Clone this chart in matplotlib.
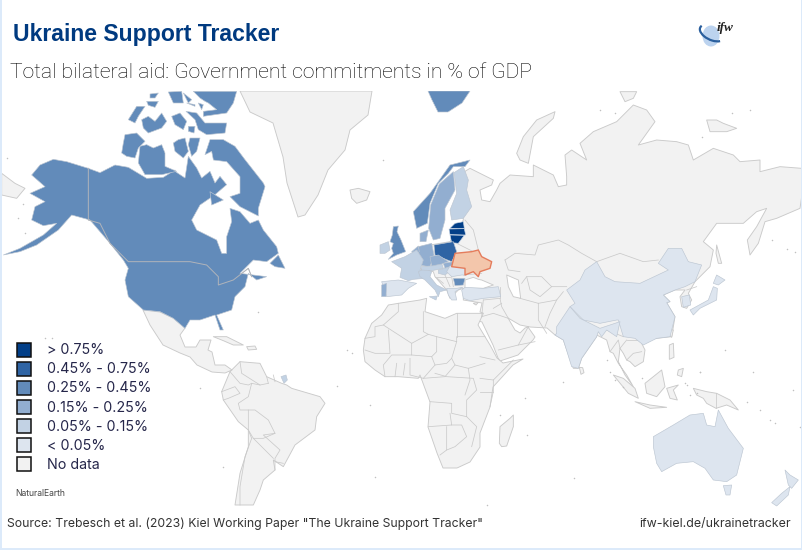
import matplotlib
matplotlib.use("Agg")
import matplotlib.pyplot as plt
from matplotlib.patches import Polygon, Rectangle, Ellipse, Arc

# ---- data: aid classes and the countries in them -------------------------
BIN_LABELS = ["> 0.75%", "0.45% - 0.75%", "0.25% - 0.45%", "0.15% - 0.25%",
              "0.05% - 0.15%", "< 0.05%", "No data"]
BIN_COLORS = ["#023f88", "#2f64a4", "#628bba", "#92aed0", "#c2d2e4", "#dde5ef", "#f2f2f2"]
OVER_075 = ["Estonia", "Latvia", "Lithuania"]
FROM_045 = ["Poland"]
FROM_025 = ["USA_Canada", "Newfoundland", "Banks", "Victoria", "Ellesmere", "Devon", "Axel", "Axel2",
            "Small1", "Small2", "Small3", "Melville", "Patrick", "Bathurst", "Ellef", "Ellef2",
            "Somerset", "PrinceWales", "Baffin", "Southampton", "Norway", "Svalbard", "UK", "Bulgaria"]
FROM_015 = ["Sweden", "Germany", "Denmark", "Netherlands", "Portugal", "Czechia", "Slovakia"]
FROM_005 = ["Finland", "France", "Italy", "Sicily", "Belgium", "Austria", "Hungary",
            "FrenchGuiana", "Ireland"]
UNDER_005 = ["Spain", "Romania", "Greece", "Turkey", "China", "India", "SouthKorea", "Honshu", "Hokkaido",
             "Australia", "Tasmania", "NZNorth", "NZSouth"]
NO_DATA = ["Eurasia", "Greenland", "Iceland", "Novaya", "Severnaya", "NewSiberia", "Sakhalin",
           "Africa", "Madagascar", "SouthAmerica", "Mexico", "Cuba", "Hispaniola", "Chukotka",
           "Switzerland", "Sumatra", "Java", "Borneo", "Sulawesi", "NewGuinea", "Luzon",
           "Mindanao", "SriLanka", "Taiwan", "Cyprus"]


def crop(x0, y0):
    return lambda p: [(x0 + x / 3, y0 + y / 3) for x, y in p]


c1, c2, c3, c4 = crop(350, 140), crop(355, 295), crop(0, 80), crop(500, 80)
c5, c6, c7 = crop(120, 88), crop(180, 330), crop(480, 320)
c8, c9, c10 = crop(450, 270), crop(590, 320), crop(375, 220)

# ---- outlines -------------------------------------------------------------
OUTLINES = {
    "USA_Canada": c3([(160,238),(200,245),(265,265),(300,278),(345,255),(385,262),(440,295),(490,292),(525,270)]) + c5([(165,250),(195,270),(205,205),(230,240),(245,270),(270,250),(285,285),(300,265),(320,290),(285,320)]) + c3([(600,375),(575,420),(590,450),(650,480),(665,520),(680,520),(680,470),(695,425),(690,385),(720,395),(750,430),(775,420),(790,450),(830,500),(835,520),(800,545),(760,540),(720,580),(800,590),(770,600),(745,580),(735,620),(705,650),(695,690),(650,705),(670,750),(660,750),(645,705),(600,720),(570,720),(555,745),(520,715),(480,695),(430,690),(385,650),(375,600),(385,565),(370,540),(330,490),(270,420),(215,405),(175,450),(110,495),(60,515),(10,525),(60,505),(130,465),(170,430),(130,437),(95,420),(105,380),(135,365),(90,340),(135,320),(95,285),(120,255)]),
    "Newfoundland": c3([(810,550),(835,525),(855,565),(825,560)]),
    "Banks": c5([(15,140),(50,135),(75,160),(55,180),(45,210),(20,205),(5,195),(10,165)]),
    "Victoria": c5([(60,175),(80,170),(100,180),(125,170),(135,195),(135,235),(170,250),(125,260),(75,260),(55,225)]),
    "Ellesmere": c5([(220,10),(350,10),(340,45),(320,75),(250,85),(250,70),(290,65),(265,45),(255,40),(240,30)]),
    "Devon": c5([(198,70),(230,75),(255,105),(320,105),(315,135),(260,140),(235,125),(225,95)]),
    "Axel": c5([(145,12),(185,10),(190,45),(160,45)]),
    "Axel2": c5([(190,15),(215,35),(205,45)]),
    "Small1": c5([(200,45),(225,50),(225,55)]),
    "Small2": c5([(235,45),(250,50),(245,65)]),
    "Small3": c5([(205,115),(225,115),(222,135),(205,130)]),
    "Melville": c5([(65,95),(85,85),(105,100),(125,75),(140,100),(125,120),(85,135),(70,120)]),
    "Patrick": c5([(25,95),(50,55),(75,55),(55,85),(45,105)]),
    "Bathurst": c5([(155,85),(180,75),(200,100),(190,125),(165,110)]),
    "Ellef": c5([(90,18),(115,15),(105,30),(90,30)]),
    "Ellef2": c5([(80,40),(115,40),(105,58),(85,52)]),
    "Somerset": c5([(175,155),(195,150),(205,190),(190,210),(165,190),(160,165)]),
    "PrinceWales": c5([(210,150),(240,150),(230,190),(215,205),(205,170)]),
    "Baffin": c5([(255,200),(270,155),(310,155),(345,175),(375,215),(430,285)]) + c3([(795,320),(775,385),(775,408),(720,380),(690,350),(720,340),(720,290),(680,245),(640,240)]) + c5([(280,215),(275,190)]),
    "Southampton": c3([(630,335),(670,360),(635,375)]),
    "Greenland": [(240,91),(372,91),(368,115),(350,130),(345,150),(328,170),(318,195),(305,215),(298,217),(287,183),(283,157),(273,123),(250,112)],
    "Chukotka": c3([(5,280),(45,310),(75,325),(50,355),(5,345)]),
    "Iceland": c1([(0,150),(25,145),(60,155),(50,180),(20,190),(5,175)]),
    "Svalbard": [(428,91),(470,91),(462,103),(448,112),(438,112),(432,100)],
    "Eurasia": c1([(360,85),(430,120),(425,135),(390,150),(395,180),(420,185),(440,150),(450,130)]) + c4([(30,285),(100,290),(100,255),(160,285),(175,320),(200,315),(200,290),(195,225),(215,210),(260,240),(240,190),(280,155),(350,125),(400,75),(440,90),(465,125),(415,195),(470,180),(530,185),(565,195),(580,240),(640,205),(700,225),(720,245),(780,240),(780,275),(840,260),(905,265),(905,350),(900,385),(830,415),(795,425),(775,490),(750,525),(742,480),(770,440),(800,385),(770,395),(730,430),(650,430),(610,485),(640,510),(630,560),(585,605),(565,640),(575,660),(560,685),(545,680),(540,650),(555,630),(525,630),(490,645),(510,665),(500,668),(525,710),(515,770)]) + c7([(530,55)]) + c9([(165,60),(155,70),(165,90),(160,125),(135,140),(120,125),(110,120),(100,100),(90,85),(85,125),(105,165),(130,200),(110,165),(85,130),(70,100),(60,95),(50,60),(40,55),(20,45)]) + c7([(350,50),(305,115),(295,145),(280,145),(250,60),(225,45)]) + [(547,328),(530,327),(520,325),(508,318),(515,330),(520,333),(525,328),(528,327),(535,337),(533,340),(518,355),(500,361),(498,358),(493,345),(482,322),(475,320),(483,313),(480,312),(482,303)] + c1([(340,480),(340,445),(325,450),(300,475),(290,450),(255,410),(250,395),(205,385),(195,360),(210,320),(300,305),(340,240),(335,200),(335,100)]),
    "Novaya": c4([(50,220),(70,170),(110,120),(165,95),(160,115),(100,170),(85,250),(60,240)]),
    "Severnaya": c4([(360,35),(410,35),(400,55),(375,65)]),
    "NewSiberia": c4([(620,120),(650,120),(670,130),(710,145),(680,155),(630,155)]),
    "Sakhalin": c4([(650,495),(665,550),(655,550),(648,520)]),
    "Africa": c2([(25,165),(30,130),(50,85),(80,60),(100,30),(130,25),(195,15),(215,10),(210,50),(270,70),(305,55),(385,55)]) + [(478,325),(490,345),(497,358),(503,363),(523,359),(513,365),(493,387),(490,407),(480,433),(480,447),(470,462),(457,468),(443,468),(437,453),(428,427),(430,402),(420,375)] + c2([(190,250),(130,245),(90,245),(60,225),(30,200)]),
    "Madagascar": c7([(58,370),(60,320),(90,295),(100,285),(100,320),(80,378),(65,380)]),
    "SouthAmerica": c6([(180,95),(150,125),(125,185),(130,210),(175,275),(205,300),(205,350),(180,430),(165,525),(220,525),(240,480),(250,450),(285,420),(280,390),(310,410),(345,345),(405,300),(410,260),(435,220),(420,200),(335,175),(320,165),(305,160),(260,140),(240,100)]),
    "Mexico": [(143,310),(150,325),(163,345),(180,353),(190,357),(197,365),(212,372),(225,373),(232,370),(225,365),(215,365),(212,352),(208,350),(211,340),(200,340),(196,347),(185,347),(180,335),(185,328),(173,318),(160,312)],
    "Cuba": c6([(100,20),(140,20),(190,45),(160,45),(130,32)]),
    "Hispaniola": c6([(200,50),(225,48),(230,58),(205,60)]),
    "UK": c10([(55,20),(70,18),(66,35),(78,60),(92,95),(65,105),(40,118),(55,100),(50,85),(55,70),(45,65),(52,45)]),
    "Ireland": c10([(15,75),(40,65),(45,90),(30,100),(15,100)]),
    "Norway": c1([(190,215),(240,160),(300,75),(360,60),(345,80),(310,80),(295,100),(265,130),(240,190),(232,250),(200,265)]),
    "Sweden": c1([(236,265),(242,195),(268,132),(310,95),(315,150),(285,205),(285,240),(270,295),(250,300)]),
    "Finland": c1([(300,210),(320,160),(312,98),(340,80),(355,120),(350,150),(365,200),(340,235),(305,240)]),
    "Denmark": c1([(210,280),(235,270),(228,305),(210,305)]),
    "Estonia": c10([(240,10),(265,5),(268,25),(225,25)]),
    "Latvia": c10([(222,27),(268,26),(272,45),(225,44)]),
    "Lithuania": c10([(225,45),(268,46),(250,70),(230,68)]),
    "Poland": c1([(252,315),(310,305),(320,335),(305,365),(255,345)]),
    "Germany": c1([(205,320),(245,310),(252,345),(240,380),(205,375)]),
    "Netherlands": c1([(185,335),(205,318),(208,335),(195,345)]),
    "Belgium": c1([(180,345),(195,345),(205,355),(190,358)]),
    "France": c10([(50,125),(90,110),(125,90),(145,120),(135,150),(150,175),(115,178),(100,182),(75,172),(80,145)]),
    "Spain": c10([(20,185),(70,180),(125,190),(100,205),(80,225),(35,230)]),
    "Portugal": c10([(20,195),(35,190),(33,230),(20,230)]),
    "Italy": c1([(205,395),(225,385),(245,395),(240,410),(260,435),(290,450),(270,455),(265,470),(255,450),(225,420),(210,410)]),
    "Sicily": c1([(238,470),(262,468),(258,480)]),
    "Switzerland": c1([(200,385),(215,388),(212,400),(200,398)]),
    "Austria": c1([(215,380),(240,378),(275,370),(280,385),(245,392),(215,390)]),
    "Czechia": c1([(240,350),(265,345),(295,365),(275,372),(245,378)]),
    "Slovakia": c1([(280,370),(310,365),(305,380),(285,385)]),
    "Hungary": c1([(265,390),(285,385),(305,378),(310,385),(285,405),(265,400)]),
    "Romania": c1([(300,378),(345,375),(350,405),(335,405),(305,410),(290,395)]),
    "Bulgaria": c1([(310,415),(345,415),(340,435),(315,437)]),
    "Greece": c1([(290,445),(320,445),(338,442),(315,455),(320,480),(305,480),(295,465)]),
    "Turkey": c1([(335,450),(345,442),(400,445),(445,440),(452,470),(400,475),(360,482),(340,475)]),
    "Cyprus": c8([(70,100),(85,97),(78,105)]),
    "China": c4([(290,545),(315,590),(345,605),(420,610),(505,570),(475,550),(505,505),(545,505),(565,545),(605,555),(585,605),(555,620),(525,630),(490,645),(510,665),(500,668),(525,710),(510,770)]) + c7([(530,55),(490,75),(465,55),(430,50),(415,0)]) + c4([(350,720),(300,730),(250,720),(210,680),(225,670),(200,630),(240,600),(255,570)]),
    "India": c4([(170,740),(210,680),(240,715),(300,745),(360,725),(350,770)]) + c7([(380,30),(365,50),(355,35),(350,50),(305,115),(295,145),(275,140),(250,60),(225,45)]) + c4([(170,760)]),
    "SriLanka": c7([(298,142),(308,143),(312,158),(303,163)]),
    "Taiwan": c7([(570,30),(580,30),(575,52),(567,45)]),
    "SouthKorea": c4([(545,650),(568,645),(572,675),(550,682)]),
    "Honshu": c4([(570,690),(625,660),(640,620),(652,625),(650,660),(600,685),(580,705)]),
    "Hokkaido": c4([(640,610),(650,585),(675,600),(655,615)]),
    "Luzon": c9([(238,75),(250,70),(252,112),(238,118)]),
    "Mindanao": c9([(265,150),(280,145),(275,170),(262,165)]),
    "Sumatra": c9([(70,165),(100,175),(135,205),(145,235),(115,220)]),
    "Java": c9([(135,245),(180,255),(230,262),(180,265)]),
    "Borneo": c9([(165,190),(215,150),(220,175),(225,200),(200,230),(170,220)]),
    "Sulawesi": c9([(230,205),(265,195),(250,210),(262,240),(240,235)]),
    "NewGuinea": c7([(640,205),(680,215),(710,220),(750,240),(775,270),(740,255),(708,265),(680,250),(670,235),(650,225)]),
    "Australia": c7([(520,350),(580,315),(630,285),(670,280),(680,315),(705,320),(715,270),(745,325),(790,385),(770,465),(740,485),(700,480),(675,445),(640,425),(590,430),(545,455),(530,430),(520,380)]),
    "Tasmania": c7([(730,497),(755,495),(750,525),(738,525)]),
    "NZNorth": c7([(915,450),(930,465),(955,480),(935,505),(925,495)]),
    "NZSouth": c7([(875,548),(905,520),(930,500),(925,525),(890,558)]),
    "FrenchGuiana": c6([(303,140),(318,135),(322,150),(312,160)]),
}

SEAS = {
    "Caspian": c8([(170,15),(205,30),(212,85),(190,80),(175,50)]),
    "Black": c1([(345,420),(370,412),(385,418),(395,420),(430,435),(400,445),(345,445)]),
}

UKRAINE = c1([(305,380),(315,340),(365,335),(385,330),(395,350),(425,365),(420,385),(390,395),(385,410),(370,395),(345,405),(345,385)])

BORDERS = [
    c3([(265,265),(265,420),(300,430),(330,490),(385,545),(570,545),(620,555),(655,590),(655,615),(700,600),(745,565),(755,590)]),
    # South America
    c6([(205,300),(215,325),(195,380),(180,470),(180,525)]),
    c6([(265,160),(240,165),(215,160),(205,200),(175,220),(180,240),(205,240),(225,240),(265,270),(285,310),(250,315),(300,360),(285,385),(285,420)]),
    c6([(150,125),(180,160),(205,165),(215,160)]), c6([(180,95),(185,130),(240,165)]),
    c6([(125,185),(165,170),(180,190),(145,205),(130,210)]),
    c6([(205,240),(205,300),(220,325),(250,325),(285,310)]),
    c6([(220,325),(280,385)]), c6([(260,140),(265,160)]), c6([(280,135),(285,155)]),
    c6([(285,395),(310,400)]),
    # Africa
    c2([(130,25),(130,50),(85,90),(60,95),(60,125),(30,130)]),
    c2([(85,90),(170,145),(220,118),(245,125),(305,140),(305,125),(390,125)]),
    c2([(100,105),(105,175),(60,175),(30,165)]), c2([(170,145),(170,180),(110,180),(85,210),(90,245)]),
    c2([(205,50),(205,110),(220,118)]), c2([(305,55),(305,125)]),
    c2([(245,125),(245,170),(230,185),(240,210),(275,205),(290,190),(305,140)]),
    c2([(170,180),(230,185)]), c2([(125,205),(120,245)]), c2([(150,205),(145,240)]), c2([(165,190),(165,240),(205,250),(240,210)]),
    c2([(290,190),(300,210),(340,220),(390,205)]), c2([(300,210),(270,245),(205,250)]), c2([(340,220),(345,255),(330,300)]),
    c6([(765,130),(800,140),(880,145),(890,180),(860,210),(860,260),(815,250),(815,220),(750,215)]),
    c6([(745,290),(815,285),(810,250)]), c6([(800,290),(800,360),(780,375)]),
    c6([(800,360),(825,350),(860,320),(845,285),(815,285)]), c6([(860,260),(890,290),(875,350)]),
    c7([(0,175),(40,180),(100,120)]), c7([(40,180),(40,215),(30,260)]), c7([(0,110),(45,120)]),
    c7([(0,215),(40,215)]),
    # Middle East and Asia
    c8([(100,90),(150,85),(155,110),(175,145)]), c8([(130,115),(155,100)]), c8([(95,140),(130,130),(175,145)]),
    c8([(145,240),(205,225),(235,170)]), c8([(205,225),(255,215)]), c8([(150,85),(150,50)]),
    c8([(100,90),(95,140)]), c8([(265,100),(265,150),(290,190)]), c8([(265,100),(320,90),(340,65)]),
    c8([(210,85),(265,100)]), c8([(320,90),(300,130),(285,170)]),
    c4([(15,540),(45,520),(105,525),(115,495),(175,480),(205,495),(245,520),(290,545),(360,520),(430,545),(475,540)]),
    c4([(15,540),(25,570),(60,575)]), c4([(65,610),(80,590),(125,590),(155,620),(200,620)]),
    c4([(80,590),(90,630),(120,650),(155,620)]),
    c7([(380,30),(430,50)]), c9([(110,60),(155,60)]), c9([(90,85),(110,60)]), c9([(110,120),(130,100),(155,95)]),
    c9([(60,95),(85,60),(90,85)]), c4([(560,630),(590,620)]),
    c7([(707,220),(707,265)]), c1([(320,310),(370,335)]),
    c1([(345,240),(370,270),(385,330)]), c1([(255,410),(300,410)]), c1([(285,405),(300,440)]),
    c1([(262,415),(280,430)]), c1([(305,410),(310,440)]), c1([(340,405),(395,400)]),
]

TINY_ISLANDS = c3([(70,372),(55,413),(75,460),(775,695),(135,773),(155,775)]) + c6([(500,60),(515,68),(470,168),(570,226),(585,440),(60,175),(130,410)]) + c7([(250,185),(135,235),(60,285),(140,345),(283,475),(20,555),(820,155),(940,210),(800,245),(870,300),(885,310),(960,320),(735,90),(660,155),(615,190),(650,220),(840,270)]) + c4([(860,508),(885,515),(815,480),(605,170),(695,100),(750,90),(345,100),(300,90)]) + c1([(100,60)]) + c3([(20,235)]) + c9([(50,120),(60,155),(75,180),(100,200),(155,175),(290,195),(330,155),(300,225)])

# ---- drawing ---------------------------------------------------------------
fig = plt.figure(figsize=(8.03, 5.5), dpi=100, facecolor="white")
ax = fig.add_axes([0, 0, 1, 1])
ax.set_xlim(0, 803)
ax.set_ylim(550, 0)
ax.axis("off")

map_clip = Rectangle((2, 91), 799, 416, transform=ax.transData)
EDGE = "#cacaca"

groups = [(OVER_075, 0), (FROM_045, 1), (FROM_025, 2), (FROM_015, 3),
          (FROM_005, 4), (UNDER_005, 5), (NO_DATA, 6)]
color_of = {name: BIN_COLORS[i] for names, i in groups for name in names}
draw_first = ["Eurasia", "Africa"]
order = draw_first + [n for n in OUTLINES if n not in draw_first]


def add(points, face, edge=EDGE, lw=0.65, z=2):
    patch = Polygon(points, closed=True, facecolor=face, edgecolor=edge, linewidth=lw,
                    joinstyle="round", zorder=z)
    ax.add_patch(patch)
    patch.set_clip_path(map_clip)


for name in order:
    if color_of[name] == BIN_COLORS[6]:
        add(OUTLINES[name], BIN_COLORS[6], z=1 if name in draw_first else 2)
for name in SEAS:
    add(SEAS[name], "white", z=1.5)
for line in BORDERS:
    xs, ys = zip(*line)
    l, = ax.plot(xs, ys, color=EDGE, lw=0.55, zorder=2.2, solid_joinstyle="round")
    l.set_clip_path(map_clip)
for name in order:
    face = color_of[name]
    if face != BIN_COLORS[6]:
        edge = "#bcc6d2" if name not in OVER_075 else "#c9d6e6"
        add(OUTLINES[name], face, edge=edge, lw=0.45, z=3)
xs, ys = zip(*BORDERS[0])
ax.plot(xs, ys, color="#b0b4ba", lw=0.7, zorder=3.5)
add(UKRAINE, "#f3c6ab", edge="#e47c5c", lw=1.0, z=4)
xs, ys = zip(*TINY_ISLANDS)
ax.scatter(xs, ys, s=1.2, color="#c0c0c0", linewidths=0, zorder=2)

# frame strips of the source page
for r in [(0, 0, 2, 550), (801, 0, 2, 550), (0, 548, 803, 2)]:
    ax.add_patch(Rectangle(r[:2], r[2], r[3], facecolor="#dceafa", edgecolor="none", zorder=6))

# titles
ax.text(13, 34, "Ukraine Support Tracker", family="Liberation Sans", weight="bold",
        fontsize=16.6, color="#003a80", va="center", ha="left", zorder=7)
ax.text(10, 73, "Total bilateral aid: Government commitments in % of GDP", family="Roboto",
        weight="light", fontsize=15.2, color="#000000", va="center", ha="left", zorder=7)

# logo
ax.add_patch(Ellipse((711, 36), 17, 21, facecolor="#bcd3ef", edgecolor="none", zorder=7))
ax.add_patch(Arc((712, 33), 26, 14, angle=25, theta1=20, theta2=190, color="#2a5f9e", lw=1.6, zorder=8))
ax.text(717, 27.5, "ifw", family="Liberation Serif", style="italic", weight="bold",
        fontsize=9.5, color="#222222", va="center", ha="left", zorder=8)

# legend
for i, (lab, col) in enumerate(zip(BIN_LABELS, BIN_COLORS)):
    ax.add_patch(Rectangle((16.7, 342.7 + 19.1 * i), 14, 14, facecolor=col, edgecolor="#101010",
                           linewidth=1.1, zorder=7))
    ax.text(47, 350.3 + 19.1 * i, lab, family="Inter", fontsize=10.3, color="#25264a",
            va="center", ha="left", zorder=7)
ax.text(15, 493, "NaturalEarth", family="Inter", fontsize=6.2, color="#444444", va="center", zorder=7)

# footer
ax.text(7, 524, "Source: Trebesch et al. (2023) Kiel Working Paper \"The Ukraine Support Tracker\"",
        family="Inter", fontsize=8.8, color="#333333", va="center", ha="left", zorder=7)
ax.text(791, 524, "ifw-kiel.de/ukrainetracker", family="Inter", fontsize=8.9, color="#333333",
        va="center", ha="right", zorder=7)

fig.savefig("out.png", dpi=100)
